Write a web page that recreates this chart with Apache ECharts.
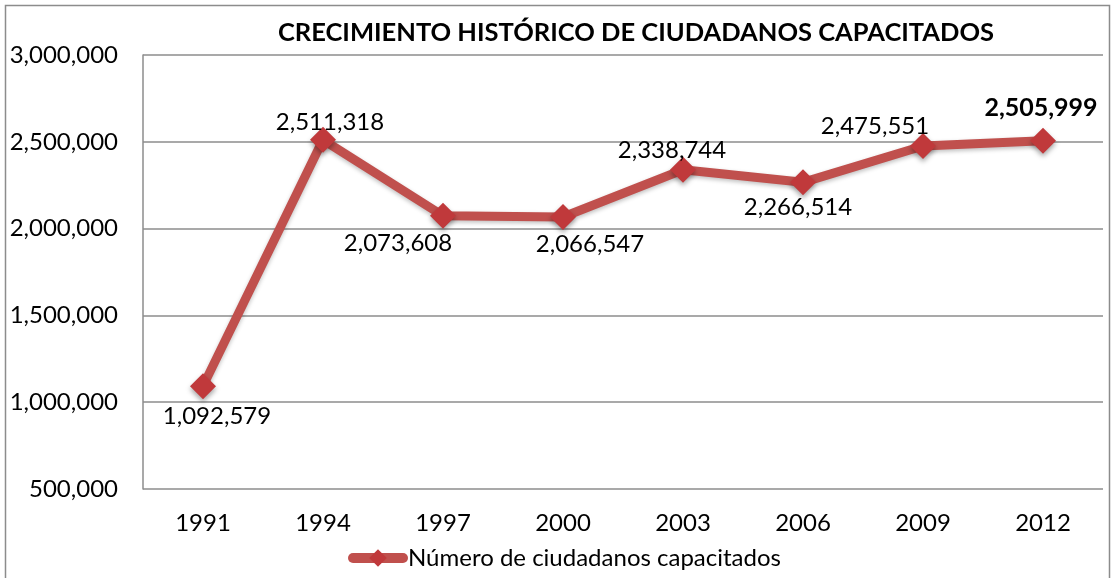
<!DOCTYPE html>
<html>
<head>
<meta charset="utf-8">
<script src="https://cdn.jsdelivr.net/npm/echarts@6/dist/echarts.min.js"></script>
<style>
  html, body { margin: 0; padding: 0; background: #fff; }
  #main { width: 1114px; height: 578px; }
</style>
</head>
<body>
<div id="main"></div>
<script>
// datos del gráfico
var years = ['1991', '1994', '1997', '2000', '2003', '2006', '2009', '2012'];
var capacitados = [1092579, 2511318, 2073608, 2066547, 2338744, 2266514, 2475551, 2505999];
var labelPos = ['bottom', 'top', 'bottom', 'bottom', 'top', 'bottom', 'top', 'top'];
var labelShiftX = [14, 7, -45, 27, -11, -5, -48, -2];
var labelShiftY = [5, 7, 2, 2, 5, 0, 5, -7];

var fmt = function (v) { return v.toLocaleString('en-US'); };
var font = 'Lato, "Open Sans", sans-serif';

var chart = echarts.init(document.getElementById('main'));

var seriesData = capacitados.map(function (v, i) {
  var last = i === capacitados.length - 1;
  return {
    value: v,
    label: {
      position: labelPos[i],
      distance: 0,
      offset: [labelShiftX[i], labelShiftY[i]],
      fontWeight: last ? 'bold' : 'normal',
      fontSize: last ? 25 : 24
    }
  };
});

chart.setOption({
  animation: false,
  textStyle: { fontFamily: font },
  title: {
    text: 'CRECIMIENTO HISTÓRICO DE CIUDADANOS CAPACITADOS',
    left: 631, top: 15, textAlign: 'center',
    textStyle: { fontFamily: font, fontSize: 25.5, fontWeight: 'bold', color: '#000' }
  },
  graphic: [{
    type: 'rect',
    shape: { x: 5.5, y: 5.5, width: 1104, height: 580 },
    style: { fill: 'none', stroke: '#8c8c8c', lineWidth: 1.5 },
    silent: true
  }],
  legend: {
    top: 541, left: 343,
    itemWidth: 50, itemHeight: 22, itemGap: 4,
    lineStyle: { width: 10, cap: 'round' },
    textStyle: { fontFamily: font, fontSize: 24, color: '#000' },
    data: ['Número de ciudadanos capacitados']
  },
  grid: { left: 143, right: 11, top: 55, bottom: 89 },
  xAxis: {
    type: 'category',
    data: years,
    boundaryGap: true,
    axisLine: { show: false },
    axisTick: { show: false },
    axisLabel: { fontFamily: font, fontSize: 24, color: '#000', margin: 22 }
  },
  yAxis: {
    type: 'value',
    min: 500000, max: 3000000, interval: 500000,
    axisLine: { show: true, lineStyle: { color: '#8c8c8c', width: 1.5 } },
    axisTick: { show: false },
    splitLine: { lineStyle: { color: '#8c8c8c', width: 1.5 } },
    axisLabel: { fontFamily: font, fontSize: 24, color: '#000', margin: 25, formatter: fmt }
  },
  series: [{
    name: 'Número de ciudadanos capacitados',
    type: 'line',
    data: seriesData,
    symbol: 'diamond',
    symbolSize: 26,
    lineStyle: {
      color: '#c0504d', width: 9,
      shadowColor: 'rgba(0,0,0,0.25)', shadowBlur: 4, shadowOffsetY: 2
    },
    itemStyle: {
      color: '#c0393b',
      shadowColor: 'rgba(0,0,0,0.35)', shadowBlur: 5, shadowOffsetY: 3
    },
    label: {
      show: true,
      fontFamily: font, fontSize: 24, color: '#000',
      formatter: function (p) { return fmt(p.value); }
    }
  }]
});
</script>
</body>
</html>
